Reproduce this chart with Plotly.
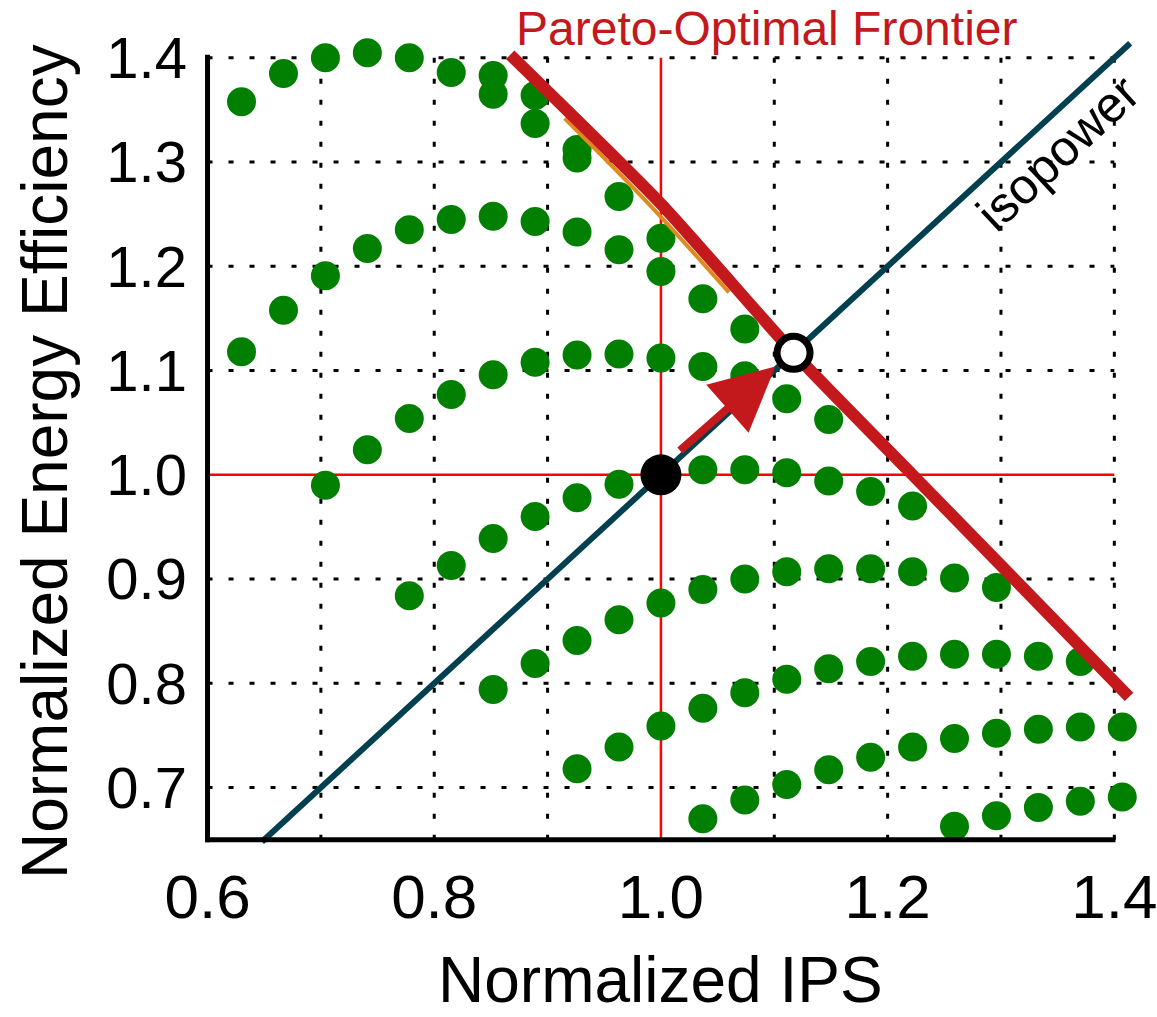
import plotly.graph_objects as go

# ---------------- data ----------------
c0_x = [0.852, 0.889, 0.926]
c0_y = [1.383, 1.364, 1.312]

c1_x = [0.630, 0.667, 0.704, 0.741, 0.778, 0.815, 0.852, 0.889, 0.926, 0.963, 1.000]
c1_y = [1.358, 1.385, 1.400, 1.405, 1.400, 1.386, 1.365, 1.337, 1.304, 1.267, 1.227]

c2_x = [0.630, 0.667, 0.704, 0.741, 0.778, 0.815, 0.852, 0.889, 0.926, 0.963, 1.000, 1.037, 1.074]
c2_y = [1.118, 1.158, 1.191, 1.217, 1.235, 1.245, 1.248, 1.243, 1.233, 1.216, 1.195, 1.169, 1.140]

c3_x = [0.704, 0.741, 0.778, 0.815, 0.852, 0.889, 0.926, 0.963, 1.000, 1.037, 1.074, 1.111, 1.148]
c3_y = [0.990, 1.024, 1.054, 1.077, 1.096, 1.108, 1.115, 1.116, 1.112, 1.104, 1.095, 1.073, 1.053]

c4_x = [0.778, 0.815, 0.852, 0.889, 0.926, 0.963, 1.000, 1.037, 1.074, 1.111, 1.148, 1.185, 1.222]
c4_y = [0.884, 0.913, 0.939, 0.960, 0.978, 0.991, 0.999, 1.005, 1.005, 1.002, 0.994, 0.984, 0.970]

c5_x = [0.852, 0.889, 0.926, 0.963, 1.000, 1.037, 1.074, 1.111, 1.148, 1.185, 1.222, 1.259, 1.296]
c5_y = [0.794, 0.819, 0.841, 0.861, 0.877, 0.890, 0.900, 0.907, 0.910, 0.910, 0.907, 0.901, 0.892]

c6_x = [0.926, 0.963, 1.000, 1.037, 1.074, 1.111, 1.148, 1.185, 1.222, 1.259, 1.296, 1.333, 1.370]
c6_y = [0.718, 0.739, 0.759, 0.776, 0.791, 0.804, 0.814, 0.821, 0.826, 0.828, 0.828, 0.826, 0.821]

c7_x = [1.037, 1.074, 1.111, 1.148, 1.185, 1.222, 1.259, 1.296, 1.333, 1.370, 1.407]
c7_y = [0.670, 0.688, 0.703, 0.717, 0.729, 0.739, 0.747, 0.752, 0.756, 0.758, 0.758]

c8_x = [1.259, 1.296, 1.333, 1.370, 1.407]
c8_y = [0.663, 0.673, 0.681, 0.687, 0.691]

isopower_x = [0.648, 1.414]
isopower_y = [0.648, 1.414]

frontier_x = [0.867, 1.000, 1.117, 1.222, 1.413]
frontier_y = [1.403, 1.260, 1.117, 1.000, 0.787]

# thin orange edge visible just under the frontier
edge_x = [0.915, 0.990, 1.060]
edge_y = [1.342, 1.259, 1.175]

baseline_pt = (1.0, 1.0)
optimal_pt = (1.117, 1.117)
arrow_tail = (1.0155, 1.022)
arrow_tip = (1.101, 1.104)

x_ticks = [0.6, 0.8, 1.0, 1.2, 1.4]
x_ticktext = ["0.6", "0.8", "1.0", "1.2", "1.4"]
y_ticks = [0.7, 0.8, 0.9, 1.0, 1.1, 1.2, 1.3, 1.4]
y_ticktext = ["0.7", "0.8", "0.9", "1.0", "1.1", "1.2", "1.3", "1.4"]
x_grid = [0.7, 0.8, 0.9, 1.1, 1.2, 1.3, 1.4]
y_grid = [0.7, 0.8, 0.9, 1.1, 1.2, 1.3, 1.4]
x_axis_span = [0.6, 1.4]
y_axis_span = [0.65, 1.4]

# view window slightly larger than the drawn axes so that marks can overhang
x_view = [0.596, 1.42]
y_view = [0.643, 1.42]

# ---------------- styles ----------------
GREEN = "#007F00"
FRONT = "#C4191C"
ISO = "#03404F"
EDGE = "#E08A1E"
FONT = "Liberation Sans, Arial, sans-serif"

fig = go.Figure()

shapes = []
# dotted grid
for gx in x_grid:
    shapes.append(dict(type="line", xref="x", yref="y", x0=gx, x1=gx,
                       y0=y_axis_span[0], y1=y_axis_span[1], layer="below",
                       line=dict(color="black", width=3, dash="5px,16px")))
for gy in y_grid:
    shapes.append(dict(type="line", xref="x", yref="y", y0=gy, y1=gy,
                       x0=x_axis_span[0], x1=x_axis_span[1], layer="below",
                       line=dict(color="black", width=3, dash="5px,16px")))
# red reference lines at 1.0
shapes.append(dict(type="line", xref="x", yref="y", x0=1.0, x1=1.0,
                   y0=y_axis_span[0], y1=y_axis_span[1], layer="below",
                   line=dict(color="#FF0000", width=2.5)))
shapes.append(dict(type="line", xref="x", yref="y", y0=1.0, y1=1.0,
                   x0=x_axis_span[0], x1=x_axis_span[1], layer="below",
                   line=dict(color="#FF0000", width=2.5)))
# axis lines (left and bottom)
shapes.append(dict(type="line", xref="x", yref="y", x0=x_axis_span[0], x1=x_axis_span[0],
                   y0=y_axis_span[0] - 0.0024, y1=y_axis_span[1] + 0.003, layer="above",
                   line=dict(color="black", width=5)))
shapes.append(dict(type="line", xref="x", yref="y", y0=y_axis_span[0], y1=y_axis_span[0],
                   x0=x_axis_span[0] - 0.002, x1=x_axis_span[1] + 0.001, layer="above",
                   line=dict(color="black", width=5)))

# isopower line
fig.add_trace(go.Scatter(x=isopower_x, y=isopower_y, mode="lines",
                         line=dict(color=ISO, width=6), cliponaxis=False,
                         hoverinfo="skip", showlegend=False))

# green design points
for cx, cy in [(c0_x, c0_y), (c1_x, c1_y), (c2_x, c2_y), (c3_x, c3_y), (c4_x, c4_y),
               (c5_x, c5_y), (c6_x, c6_y), (c7_x, c7_y), (c8_x, c8_y)]:
    fig.add_trace(go.Scatter(x=cx, y=cy, mode="markers",
                             marker=dict(color=GREEN, size=29, line=dict(width=0)),
                             cliponaxis=False, showlegend=False))

# orange edge + pareto frontier
fig.add_trace(go.Scatter(x=edge_x, y=edge_y, mode="lines",
                         line=dict(color=EDGE, width=4, shape="spline"),
                         cliponaxis=False, showlegend=False))
fig.add_trace(go.Scatter(x=frontier_x, y=frontier_y, mode="lines",
                         line=dict(color=FRONT, width=12, shape="spline", smoothing=0.6),
                         cliponaxis=False, showlegend=False))

# baseline and optimal points
fig.add_trace(go.Scatter(x=[baseline_pt[0]], y=[baseline_pt[1]], mode="markers",
                         marker=dict(color="black", size=41), cliponaxis=False,
                         showlegend=False))
fig.add_trace(go.Scatter(x=[optimal_pt[0]], y=[optimal_pt[1]], mode="markers",
                         marker=dict(color="white", size=33, line=dict(color="black", width=7)),
                         cliponaxis=False, showlegend=False))

W, H = 1157, 1017
ML, MR, MT, MB = 203, 20, 37, 170
pw, ph = W - ML - MR, H - MT - MB


def px_x(p):
    return (p - ML) / pw


def px_y(p):
    return (H - MB - p) / ph


annotations = [
    dict(x=arrow_tip[0], y=arrow_tip[1], ax=arrow_tail[0], ay=arrow_tail[1],
         xref="x", yref="y", axref="x", ayref="y", text="", showarrow=True,
         arrowhead=2, arrowsize=1.6, arrowwidth=8, arrowcolor=FRONT, standoff=0),
    dict(x=1.094, y=px_y(28), xref="x", yref="paper", text="Pareto-Optimal Frontier",
         showarrow=False, font=dict(family=FONT, size=48, color=FRONT),
         xanchor="center", yanchor="middle"),
    dict(x=px_x(1058), y=px_y(153), xref="paper", yref="paper", text="isopower",
         textangle=-43, showarrow=False, font=dict(family=FONT, size=50, color="black"),
         xanchor="center", yanchor="middle", borderpad=0),
    dict(x=px_x(660), y=px_y(980), xref="paper", yref="paper", text="Normalized IPS",
         showarrow=False, font=dict(family=FONT, size=64, color="black"),
         xanchor="center", yanchor="middle", borderpad=0),
    dict(x=px_x(45), y=px_y(462), xref="paper", yref="paper",
         text="Normalized Energy Efficiency",
         textangle=-90, showarrow=False, font=dict(family=FONT, size=64, color="black"),
         xanchor="center", yanchor="middle"),
]

fig.update_layout(
    width=W, height=H, autosize=False,
    margin=dict(l=ML, r=MR, t=MT, b=MB, pad=0),
    paper_bgcolor="white", plot_bgcolor="white",
    shapes=shapes, annotations=annotations,
    showlegend=False,
    xaxis=dict(range=x_view, showgrid=False, zeroline=False, showline=False,
               automargin=False, tickmode="array", tickvals=x_ticks,
               ticktext=x_ticktext, ticks="", ticklabelstandoff=8,
               ticklabeloverflow="allow",
               tickfont=dict(family=FONT, size=62, color="black")),
    yaxis=dict(range=y_view, showgrid=False, zeroline=False, showline=False,
               automargin=False, tickmode="array", tickvals=y_ticks,
               ticktext=y_ticktext, ticks="", ticklabelstandoff=15,
               tickfont=dict(family=FONT, size=58, color="black")),
)

fig.write_html("out.html")
